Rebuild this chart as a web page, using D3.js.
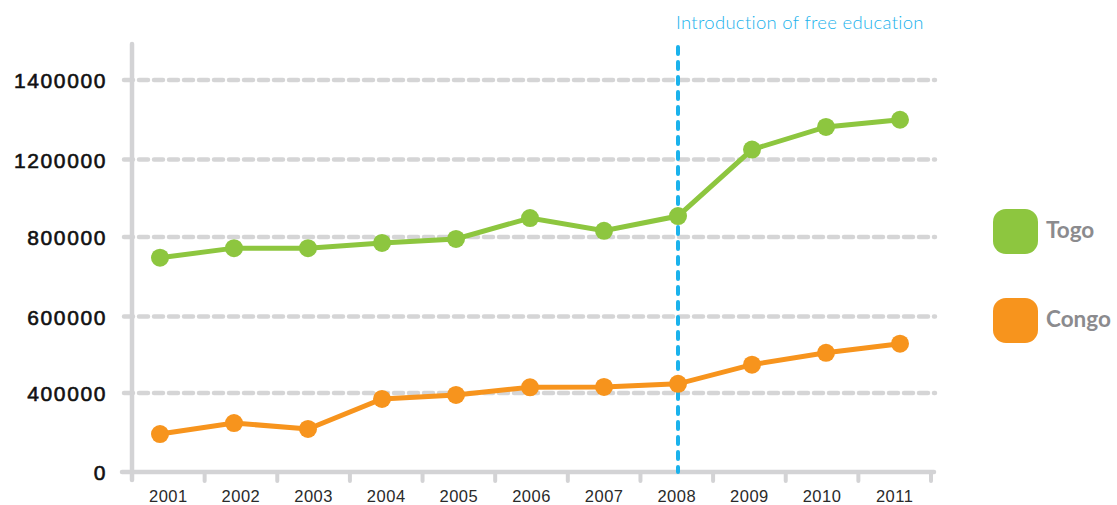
<!DOCTYPE html>
<html>
<head>
<meta charset="utf-8">
<script src="https://cdn.jsdelivr.net/npm/d3@7"></script>
<style>
  html, body { margin: 0; padding: 0; background: #fff; }
  svg { display: block; font-family: Lato, "Open Sans", sans-serif; }
</style>
</head>
<body>
<svg id="chart" width="1117" height="505"></svg>
<script>
var years = ["2001", "2002", "2003", "2004", "2005", "2006", "2007", "2008", "2009", "2010", "2011"];
var togo = [748000, 772000, 772000, 785000, 795000, 898000, 832000, 908000, 1225000, 1282000, 1300000];
var congo = [192000, 248000, 218000, 370000, 390000, 415000, 416000, 424000, 474000, 505000, 529000];
var yTicks = [0, 400000, 600000, 800000, 1200000, 1400000];
var seriesNames = ["Togo", "Congo"];
var seriesColors = ["#8dc63f", "#f7941d"];
var markerYear = "2008";
var markerLabel = "Introduction of free education";

var svg = d3.select("#chart");

// the printed y ticks are evenly spaced although their values are not
var y = d3.scaleLinear()
    .domain(yTicks)
    .range([472, 393, 316.5, 237, 159.5, 80]);
var xBand = d3.scaleBand().domain(years).range([132, 931]);
var x = d3.scalePoint().domain(years).range([160, 900]);

/* ------- GRID -------*/
svg.append("g").attr("class", "grid")
    .selectAll("line")
    .data(yTicks.slice(1))
    .enter().append("line")
    .attr("x1", 124).attr("x2", 935)
    .attr("y1", function (d) { return y(d); })
    .attr("y2", function (d) { return y(d); })
    .attr("stroke", "#d5d5d6")
    .attr("stroke-width", 4.5)
    .attr("stroke-linecap", "round")
    .attr("stroke-dasharray", "9,6");

/* ------- AXES -------*/
var yAxis = svg.append("g")
    .attr("transform", "translate(107,0)")
    .call(d3.axisLeft(y).tickValues(yTicks).tickSize(0).tickPadding(0).tickFormat(d3.format("d")));
yAxis.select(".domain").remove();
yAxis.selectAll("text")
    .attr("font-size", 21)
    .attr("letter-spacing", 1.6)
    .attr("fill", "#111")
    .attr("stroke", "#111")
    .attr("stroke-width", 0.6)
    .attr("dy", "0.36em");

svg.append("line")
    .attr("x1", 132).attr("x2", 132)
    .attr("y1", 44).attr("y2", 480)
    .attr("stroke", "#d3d3d5").attr("stroke-width", 4.5)
    .attr("stroke-linecap", "round");
svg.append("line")
    .attr("x1", 122).attr("x2", 934)
    .attr("y1", y(0)).attr("y2", y(0))
    .attr("stroke", "#d3d3d5").attr("stroke-width", 4.5)
    .attr("stroke-linecap", "round");

var bandEdges = years.map(function (d) { return xBand(d); }).concat([xBand.range()[1]]);
svg.append("g").selectAll("line")
    .data(bandEdges.slice(1))
    .enter().append("line")
    .attr("x1", function (d) { return d; })
    .attr("x2", function (d) { return d; })
    .attr("y1", y(0)).attr("y2", 481)
    .attr("stroke", "#d3d3d5").attr("stroke-width", 4)
    .attr("stroke-linecap", "round");

var xAxis = svg.append("g")
    .attr("transform", "translate(0,490)")
    .call(d3.axisBottom(xBand).tickSize(0).tickPadding(0));
xAxis.select(".domain").remove();
xAxis.selectAll("text")
    .attr("font-size", 16.5)
    .attr("letter-spacing", 0.5)
    .attr("fill", "#2a2a2a")
    .attr("dy", "0.71em");

/* ------- MARKER LINE -------*/
svg.append("line")
    .attr("x1", x(markerYear)).attr("x2", x(markerYear))
    .attr("y1", 47).attr("y2", 472)
    .attr("stroke", "#1ab2ec").attr("stroke-width", 4)
    .attr("stroke-linecap", "round")
    .attr("stroke-dasharray", "7,8");
svg.append("text")
    .attr("x", x(markerYear) - 2).attr("y", 29)
    .attr("font-size", 18.5)
    .attr("font-weight", 300)
    .attr("letter-spacing", 0.3)
    .attr("fill", "#1ab2ec")
    .text(markerLabel);

/* ------- SERIES -------*/
var series = [togo, congo];
var line = d3.line()
    .x(function (d, i) { return x(years[i]); })
    .y(function (d) { return y(d); });

series.forEach(function (values, k) {
    var g = svg.append("g").attr("class", "series");
    g.append("path")
        .datum(values)
        .attr("d", line)
        .attr("fill", "none")
        .attr("stroke", seriesColors[k])
        .attr("stroke-width", 5);
    g.selectAll("circle")
        .data(values)
        .enter().append("circle")
        .attr("cx", function (d, i) { return x(years[i]); })
        .attr("cy", function (d) { return y(d); })
        .attr("r", 9)
        .attr("fill", seriesColors[k]);
});

/* ------- LEGEND -------*/
var legend = svg.append("g").selectAll("g")
    .data(seriesNames)
    .enter().append("g")
    .attr("transform", function (d, i) { return "translate(993," + (209 + i * 89) + ")"; });
legend.append("rect")
    .attr("width", 45).attr("height", 45)
    .attr("rx", 13)
    .attr("fill", function (d, i) { return seriesColors[i]; });
legend.append("text")
    .attr("x", 53).attr("y", 29)
    .attr("font-size", 22.5)
    .attr("font-weight", 700)
    .attr("fill", "#8b8b8e")
    .text(function (d) { return d; });
</script>
</body>
</html>
